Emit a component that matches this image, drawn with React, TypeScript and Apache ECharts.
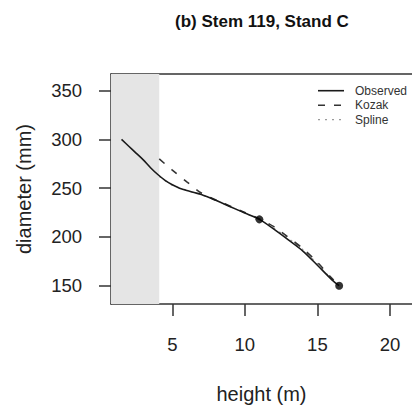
import React, { useEffect, useRef } from "react";
import * as echarts from "echarts";

// Observed profile (height m, diameter mm)
const observedX = [1.5, 2, 2.5, 3, 3.5, 4, 4.5, 5, 5.5, 6, 6.5, 7, 8, 9, 10, 11, 12, 13, 14, 15, 16, 16.5];
const observedY = [300, 293, 286, 279, 271, 264, 258, 253.5, 250, 247.5, 245.5, 243.5, 237.5, 231, 224.5, 218, 208, 197, 185.5, 171, 156, 150];

// Kozak taper model
const kozakX = [4.1, 5, 6, 7, 8, 9, 10, 11, 12, 13, 14, 15, 16, 16.5];
const kozakY = [280, 268.5, 256.5, 245, 238, 231.5, 225, 218.5, 210.5, 199.5, 188, 174, 157.5, 150];

// Spline fit
const splineX = [4.1, 5, 6, 7, 8, 9, 10, 11, 12, 13, 14, 15, 16, 16.5];
const splineY = [262, 253, 248, 243.5, 237.5, 231, 224.5, 218, 209, 198.5, 187, 172.5, 156.5, 150];

// Measured points
const pointX = [11, 16.5];
const pointY = [218, 150];

// Shaded region (height)
const shadeStart = 0.775;
const shadeEnd = 4.1;

const xTicks = [5, 10, 15, 20];
const yTicks = [150, 200, 250, 300, 350];

const titleText = "(b) Stem 119, Stand C";
const xName = "height (m)";
const yName = "diameter (mm)";
const legendNames = ["Observed", "Kozak", "Spline"];

const FONT = "Liberation Sans, Arial, Helvetica, sans-serif";

const zip = (xs: number[], ys: number[]) => xs.map((x, i) => [x, ys[i]]);

const legendStyles = [
  { stroke: "#1a1a1a", lineWidth: 1.6, lineDash: null as any },
  { stroke: "#333", lineWidth: 1.6, lineDash: [7, 9] },
  { stroke: "#9a9a9a", lineWidth: 1.2, lineDash: [2, 5] },
];

export default function App() {
  const ref = useRef<HTMLDivElement>(null);
  useEffect(() => {
    if (!ref.current) return;
    const chart = echarts.init(ref.current, undefined, { renderer: "svg" });
    const legendTop = 90.7;
    const legendStep = 14.5;
    const legendGraphics: any[] = [];
    legendNames.forEach((name, i) => {
      const y = legendTop + i * legendStep;
      legendGraphics.push({
        type: "line",
        shape: { x1: 318, y1: y, x2: 344, y2: y },
        style: { ...legendStyles[i] },
        silent: true,
      });
      legendGraphics.push({
        type: "text",
        x: 355,
        y,
        style: {
          text: name,
          fontFamily: FONT,
          fontSize: 12,
          fill: "#333",
          verticalAlign: "middle",
        },
        silent: true,
      });
    });
    const axisLineStyle = { color: "#333", width: 1.5 };
    chart.setOption({
      animation: false,
      backgroundColor: "#ffffff",
      title: {
        text: titleText,
        left: 175,
        top: 13,
        padding: 0,
        textStyle: { fontFamily: FONT, fontSize: 17, fontWeight: "bold", color: "#111" },
      },
      graphic: legendGraphics,
      grid: {
        left: 111,
        top: 74,
        right: 0,
        bottom: 108,
        show: false,
      },
      xAxis: [
        {
          type: "value",
          position: "bottom",
          min: 0.775,
          max: 21.52,
          name: xName,
          nameLocation: "middle",
          nameGap: 80,
          nameTextStyle: { fontFamily: FONT, fontSize: 20, color: "#222" },
          axisLine: { show: true, onZero: false, lineStyle: axisLineStyle },
          splitLine: { show: false },
          axisTick: { show: true, inside: false, length: 12, customValues: xTicks, lineStyle: axisLineStyle },
          axisLabel: { customValues: xTicks, margin: 31, fontFamily: FONT, fontSize: 18.5, color: "#222" },
        },
        {
          type: "value",
          position: "top",
          min: 0.775,
          max: 21.52,
          axisLine: { show: true, onZero: false, lineStyle: axisLineStyle },
          splitLine: { show: false },
          axisTick: { show: false },
          axisLabel: { show: false },
        },
      ],
      yAxis: {
        type: "value",
        min: 131.2,
        max: 367.1,
        name: yName,
        nameLocation: "middle",
        nameGap: 77,
        nameTextStyle: { fontFamily: FONT, fontSize: 20, color: "#222" },
        axisLine: { show: true, onZero: false, lineStyle: axisLineStyle },
        splitLine: { show: false },
        axisTick: { show: true, inside: false, length: 12, customValues: yTicks, lineStyle: axisLineStyle },
        axisLabel: { customValues: yTicks, margin: 29, fontFamily: FONT, fontSize: 18.5, color: "#222" },
      },
      series: [
        {
          name: "shade",
          type: "line",
          data: [],
          silent: true,
          z: 0,
          markArea: {
            silent: true,
            itemStyle: { color: "#e5e5e5" },
            data: [[{ xAxis: shadeStart }, { xAxis: shadeEnd }]],
          },
        },
        {
          name: "Spline",
          type: "line",
          data: zip(splineX, splineY),
          showSymbol: false,
          symbol: "none",
          smooth: 0.3,
          lineStyle: { color: "#9a9a9a", width: 1.2, type: [2, 5] },
          z: 2,
        },
        {
          name: "Kozak",
          type: "line",
          data: zip(kozakX, kozakY),
          showSymbol: false,
          symbol: "none",
          smooth: 0.3,
          lineStyle: { color: "#333", width: 1.6, type: [7, 9] },
          z: 3,
        },
        {
          name: "Observed",
          type: "line",
          data: zip(observedX, observedY),
          showSymbol: false,
          symbol: "none",
          smooth: 0.3,
          lineStyle: { color: "#1a1a1a", width: 1.6, type: "solid" },
          z: 4,
        },
        {
          name: "points",
          type: "scatter",
          data: zip(pointX, pointY),
          symbol: "circle",
          symbolSize: 8,
          itemStyle: { color: "#000" },
          z: 5,
        },
      ],
    });
    return () => chart.dispose();
  }, []);
  return <div ref={ref} style={{ position: "absolute", left: 0, top: 0, width: 412, height: 412 }} />;
}
